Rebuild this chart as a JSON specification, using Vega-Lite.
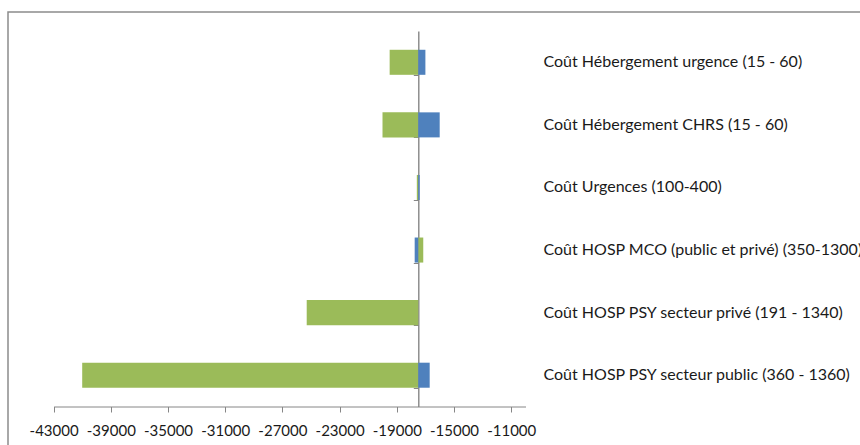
{
  "$schema": "https://vega.github.io/schema/vega-lite/v6.json",
  "width": 860,
  "height": 440,
  "padding": {"left": 8, "top": 12, "right": 0, "bottom": 0},
  "autosize": {"type": "none"},
  "config": {
    "font": "Lato",
    "view": {"stroke": "#8c8c8c", "strokeWidth": 1.5},
    "axis": {"grid": false, "title": null}
  },
  "data": {
    "values": [
      {"poste": "Coût Hébergement urgence (15 - 60)", "serie": "vert", "valeur": -19500},
      {"poste": "Coût Hébergement CHRS (15 - 60)", "serie": "vert", "valeur": -20000},
      {"poste": "Coût Urgences (100-400)", "serie": "vert", "valeur": -17600},
      {"poste": "Coût HOSP MCO (public et privé) (350-1300)", "serie": "vert", "valeur": -17150},
      {"poste": "Coût HOSP PSY secteur privé (191 - 1340)", "serie": "vert", "valeur": -25300},
      {"poste": "Coût HOSP PSY secteur public (360 - 1360)", "serie": "vert", "valeur": -41000},
      {"poste": "Coût Hébergement urgence (15 - 60)", "serie": "bleu", "valeur": -17000},
      {"poste": "Coût Hébergement CHRS (15 - 60)", "serie": "bleu", "valeur": -16000},
      {"poste": "Coût Urgences (100-400)", "serie": "bleu", "valeur": -17400},
      {"poste": "Coût HOSP MCO (public et privé) (350-1300)", "serie": "bleu", "valeur": -17750},
      {"poste": "Coût HOSP PSY secteur privé (191 - 1340)", "serie": "bleu", "valeur": -17500},
      {"poste": "Coût HOSP PSY secteur public (360 - 1360)", "serie": "bleu", "valeur": -16700}
    ]
  },
  "layer": [
    {
      "transform": [{"filter": "datum.serie === 'vert'"}],
      "mark": {"type": "bar", "color": "#9BBB59"},
      "encoding": {
        "y": {
          "field": "poste",
          "type": "nominal",
          "sort": null,
          "scale": {"range": [19, 394.5], "paddingInner": 0.6, "paddingOuter": 0.3},
          "axis": {
            "orient": "left",
            "offset": -410.3,
            "labels": false,
            "domainColor": "#868686",
            "domainWidth": 1.4,
            "tickColor": "#868686",
            "tickSize": 5,
            "tickBand": "extent"
          }
        },
        "x": {
          "field": "valeur",
          "type": "quantitative",
          "scale": {"domain": [-43000, -10000], "range": [45.6, 517.5], "nice": false, "zero": false},
          "axis": {
            "orient": "bottom",
            "offset": -45.5,
            "values": [-43000, -39000, -35000, -31000, -27000, -23000, -19000, -15000, -11000],
            "labelExpr": "'' + datum.value",
            "domainColor": "#868686",
            "tickColor": "#868686",
            "tickSize": 5.5,
            "labelFontSize": 15,
            "labelColor": "#1a1a1a",
            "labelPadding": 11,
            "labelFlush": false,
            "labelOverlap": false
          }
        },
        "x2": {"datum": -17500}
      }
    },
    {
      "transform": [{"filter": "datum.serie === 'bleu'"}],
      "mark": {"type": "bar", "color": "#4F81BD"},
      "encoding": {
        "y": {
          "field": "poste",
          "type": "nominal",
          "sort": null,
          "axis": {
            "orient": "right",
            "offset": -325,
            "domain": false,
            "ticks": false,
            "tickSize": 0,
            "labelPadding": 0,
            "labelFontSize": 16,
            "labelColor": "#1a1a1a",
            "labelLimit": 0
          }
        },
        "x": {"field": "valeur", "type": "quantitative"},
        "x2": {"datum": -17500}
      }
    }
  ],
  "resolve": {"axis": {"y": "independent"}}
}
